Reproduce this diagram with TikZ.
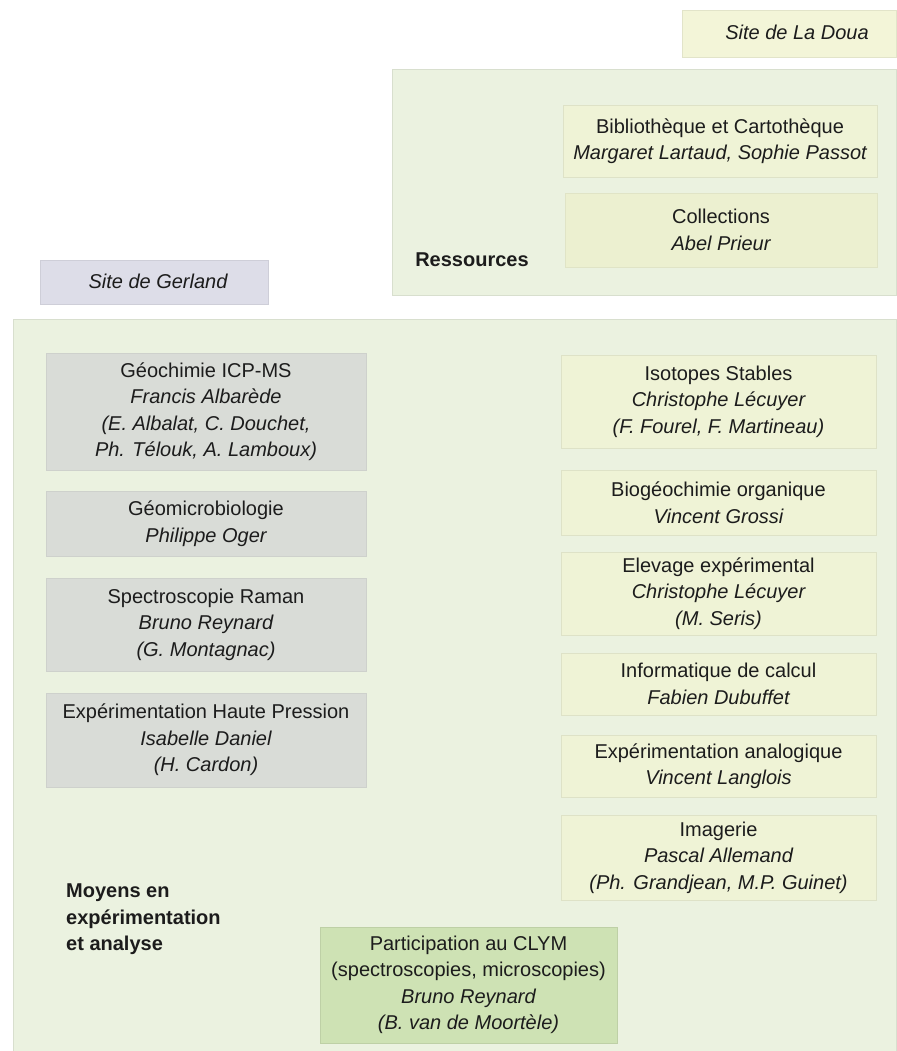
\documentclass[tikz,border=0pt]{standalone}
\usepackage{fontspec}
\setmainfont{Liberation Sans}
\definecolor{bggreen}{RGB}{235,242,224}
\definecolor{yelbox}{RGB}{239,243,214}
\definecolor{colbox}{RGB}{236,240,208}
\definecolor{graybox}{RGB}{217,220,215}
\definecolor{lavbox}{RGB}{221,221,232}
\definecolor{clymbox}{RGB}{206,226,180}
\definecolor{doubox}{RGB}{243,245,216}
\definecolor{txt}{RGB}{28,28,28}
\tikzset{
  txtfont/.style={font={\fontsize{20}{26.5}\selectfont}, text=txt, align=center},
  panel/.style={fill=bggreen, draw=bggreen!92!black, line width=0.8pt},
  ybox/.style={txtfont, rectangle, fill=yelbox, draw=yelbox!93!black, line width=0.8pt, inner sep=0pt},
  gbox/.style={txtfont, rectangle, fill=graybox, draw=graybox!95!black, line width=0.8pt, inner sep=0pt},
  cbox/.style={txtfont, rectangle, fill=clymbox, draw=clymbox!92!black, line width=0.8pt, inner sep=0pt},
  sitebox/.style={txtfont, rectangle, inner sep=0pt, line width=0.8pt},
  plainlabel/.style={txtfont, inner sep=0pt},
}
\begin{document}
\begin{tikzpicture}[x=1pt,y=-1pt]
\useasboundingbox (0,0) rectangle (896,1051);
\fill[white] (0,0) rectangle (896,1051);

% site boxes
\node[sitebox, fill=doubox, draw=doubox!93!black, minimum width=214pt, minimum height=47pt] (doua) at (789,33.5) {};
\node[plainlabel] (doualbl) at (797,32) {\itshape Site de La Doua};
\node[sitebox, fill=lavbox, draw=lavbox!93!black, minimum width=228pt, minimum height=44pt] (gerland) at (154,282) {};
\node[plainlabel] (gerlandlbl) at (158,281) {\itshape Site de Gerland};

% Ressources panel
\node[panel, rectangle, inner sep=0pt, minimum width=504pt, minimum height=226pt] (respanel) at (644,182) {};
\node[ybox, minimum width=314pt, minimum height=72pt] (biblio) at (720,141) {Biblioth\`eque et Cartoth\`eque\\\itshape Margaret Lartaud, Sophie Passot};
\node[ybox, fill=colbox, draw=colbox!95!black, minimum width=312pt, minimum height=74pt] (coll) at (721,230) {Collections\\\itshape Abel Prieur};
\node[plainlabel, font={\fontsize{20}{26.5}\selectfont\bfseries}] (ress) at (472,260) {Ressources};

% Moyens panel
\node[panel, rectangle, inner sep=0pt, minimum width=883pt, minimum height=732pt] (moypanel) at (454.5,685) {};

% left column
\node[gbox, minimum width=320pt, minimum height=117pt] (geo) at (206,411.5) {G\'eochimie ICP-MS\\\itshape Francis Albar\`ede\\\itshape (E. Albalat, C. Douchet,\\\itshape Ph. T\'elouk, A. Lamboux)};
\node[gbox, minimum width=320pt, minimum height=65pt] (micro) at (206,523.5) {G\'eomicrobiologie\\\itshape Philippe Oger};
\node[gbox, minimum width=320pt, minimum height=93pt] (raman) at (206,624.5) {Spectroscopie Raman\\\itshape Bruno Reynard\\\itshape (G. Montagnac)};
\node[gbox, minimum width=320pt, minimum height=94pt] (hp) at (206,740) {Exp\'erimentation Haute Pression\\\itshape Isabelle Daniel\\\itshape (H. Cardon)};

% right column
\node[ybox, minimum width=315pt, minimum height=93pt] (iso) at (718.5,401.5) {Isotopes Stables\\\itshape Christophe L\'ecuyer\\\itshape (F. Fourel, F. Martineau)};
\node[ybox, minimum width=315pt, minimum height=65pt] (bio) at (718.5,502.5) {Biog\'eochimie organique\\\itshape Vincent Grossi};
\node[ybox, minimum width=315pt, minimum height=83pt] (elev) at (718.5,593.5) {Elevage exp\'erimental\\\itshape Christophe L\'ecuyer\\\itshape (M. Seris)};
\node[ybox, minimum width=315pt, minimum height=62pt] (info) at (718.5,684) {Informatique de calcul\\\itshape Fabien Dubuffet};
\node[ybox, minimum width=315pt, minimum height=62pt] (analog) at (718.5,766) {Exp\'erimentation analogique\\\itshape Vincent Langlois};
\node[ybox, minimum width=315pt, minimum height=85pt] (imag) at (718.5,857.5) {Imagerie\\\itshape Pascal Allemand\\\itshape (Ph. Grandjean, M.P. Guinet)};

% CLYM
\node[cbox, minimum width=297pt, minimum height=116pt] (clym) at (468.5,985) {Participation au CLYM\\(spectroscopies, microscopies)\\\itshape Bruno Reynard\\\itshape (B. van de Moort\`ele)};

% label
\node[plainlabel, anchor=north west, align=left, font={\fontsize{20}{26.5}\selectfont\bfseries}] (moyens) at (66,884) {Moyens en\\exp\'erimentation\\et analyse};
\end{tikzpicture}
\end{document}
